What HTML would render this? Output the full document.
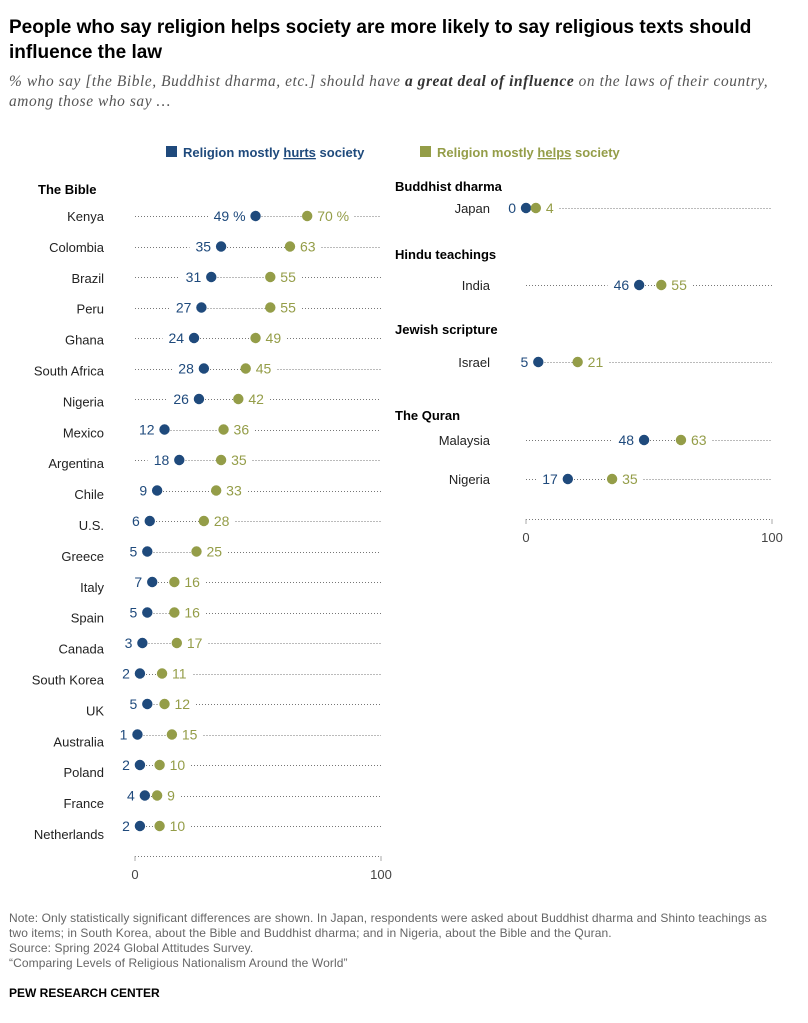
<!DOCTYPE html>
<html><head><meta charset="utf-8"><style>
body{margin:0;background:#fff;font-family:"Liberation Sans",sans-serif;}
#wrap{position:relative;width:808px;height:1023px;overflow:hidden}
.t{position:absolute;white-space:nowrap}
</style></head><body><div id="wrap">
<div class="t" style="left:9px;top:15px;font-size:19px;font-weight:bold;line-height:25px;color:#000;width:790px;white-space:normal">People who say religion helps society are more likely to say religious texts should influence the law</div>
<div class="t" style="left:9px;top:72px;font-size:15.4px;letter-spacing:0.58px;line-height:20px;color:#555;font-style:italic;font-family:'Liberation Serif',serif">% who say [the Bible, Buddhist dharma, etc.] should have <b style="color:#333">a great deal of influence</b> on the laws of their country,<br>among those who say …</div>
<svg id="c" width="808" height="1023" style="position:absolute;left:0;top:0"></svg>
<div class="t" style="left:9px;top:911px;font-size:12px;letter-spacing:0.1px;line-height:15px;color:#666">Note: Only statistically significant differences are shown. In Japan, respondents were asked about Buddhist dharma and Shinto teachings as<br>two items; in South Korea, about the Bible and Buddhist dharma; and in Nigeria, about the Bible and the Quran.<br>Source: Spring 2024 Global Attitudes Survey.<br>“Comparing Levels of Religious Nationalism Around the World”</div>
<div class="t" style="left:9px;top:986px;font-size:12px;font-weight:bold;color:#000">PEW RESEARCH CENTER</div>
</div>
<script>
const leftCountries=["Kenya","Colombia","Brazil","Peru","Ghana","South Africa","Nigeria","Mexico","Argentina","Chile","U.S.","Greece","Italy","Spain","Canada","South Korea","UK","Australia","Poland","France","Netherlands"];
const leftHurts=[49,35,31,27,24,28,26,12,18,9,6,5,7,5,3,2,5,1,2,4,2];
const leftHelps=[70,63,55,55,49,45,42,36,35,33,28,25,16,16,17,11,12,15,10,9,10];
const rightGroups=["Buddhist dharma","Hindu teachings","Jewish scripture","The Quran"];
const rightCountries=["Japan","India","Israel","Malaysia","Nigeria"];
const rightHurts=[0,46,5,48,17];
const rightHelps=[4,55,21,63,35];
const rightY=[208,285,362,440,479];
const axisTicks=[0,100];
const BLUE="#1f4a7c",GREEN="#949d48",NS="http://www.w3.org/2000/svg";
const svg=document.getElementById('c');
function el(tag,attrs,name){const e=document.createElementNS(NS,tag);for(const k in attrs)e.setAttribute(k,attrs[k]);


svg.appendChild(e);return e;}
function txt(x,y,s,o,name){const t=el('text',Object.assign({x:x,y:y,'font-size':13,'font-family':'Liberation Sans, sans-serif'},o),name);t.textContent=s;return t;}
function dotted(x1,x2,y,name){if(x2-x1<2)return;const yy=Math.round(y)+0.5;el('line',{x1:x1,x2:x2,y1:yy,y2:yy,stroke:'#777','stroke-width':1,'stroke-dasharray':'1 2','shape-rendering':'crispEdges'},name);}
function row(xs,cname,ly,y,h,g,lbl,showPct){
  const xb=xs(h),xg=xs(g);
  txt(lbl,ly+5,cname,{'text-anchor':'end',fill:'#222'},'country-label');
  const bt=h+(showPct?' %':''),gt=g+(showPct?' %':'');
  const bw=bt.length*7.8,gw=gt.length*7.8;
  dotted(xs(0),xb-bw-16,y,'gridline');
  dotted(xb,xg,y,'connector');
  dotted(xg+gw+16,xs(100),y,'gridline');
  txt(xb-10,y+5,bt,{'text-anchor':'end',fill:BLUE,'font-size':14},'value-hurts');
  txt(xg+10,y+5,gt,{fill:GREEN,'font-size':14},'value-helps');
  el('circle',{cx:xb,cy:y,r:5.2,fill:BLUE},'dot-hurts');
  el('circle',{cx:xg,cy:y,r:5.2,fill:GREEN},'dot-helps');
}
function axis(xs,y){
  dotted(xs(0),xs(100),y,'x-axis-line');
  axisTicks.forEach(v=>{el('line',{x1:xs(v),x2:xs(v),y1:y,y2:y+5,stroke:'#aaa'},'x-axis-tick');
    txt(xs(v),y+23,String(v),{'text-anchor':'middle',fill:'#444'},'x-axis-label');});
}
const xl=v=>135+v*2.46, xr=v=>526+v*2.46;
el('rect',{x:166,y:146,width:11,height:11,fill:BLUE},'legend-swatch-hurts');
const l1=txt(183,157,'',{fill:BLUE,'font-weight':'bold'},'legend-hurts');l1.innerHTML='Religion mostly <tspan text-decoration="underline">hurts</tspan> society';
el('rect',{x:420,y:146,width:11,height:11,fill:GREEN},'legend-swatch-helps');
const l2=txt(437,157,'',{fill:GREEN,'font-weight':'bold'},'legend-helps');l2.innerHTML='Religion mostly <tspan text-decoration="underline">helps</tspan> society';
txt(38,194,'The Bible',{'font-weight':'bold',fill:'#000'},'group-title');
leftCountries.forEach((c,i)=>{const y=216+i*30.5;row(xl,c,216+i*30.9,y,leftHurts[i],leftHelps[i],104,i===0);});
axis(xl,856);
const gy=[186,254,329,415];
gy.forEach((y,i)=>txt(395,y+5,rightGroups[i],{'font-weight':'bold',fill:'#000'},'group-title'));
rightCountries.forEach((c,i)=>row(xr,c,rightY[i],rightY[i],rightHurts[i],rightHelps[i],490,false));
axis(xr,519);
</script></body></html>
